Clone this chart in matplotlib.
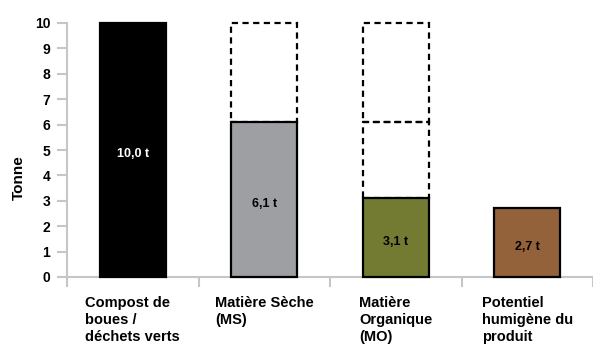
import matplotlib
matplotlib.use("Agg")
import matplotlib.pyplot as plt

plt.rcParams["font.family"] = ["Liberation Sans", "DejaVu Sans"]
plt.rcParams["font.weight"] = "bold"

# data
categories = [
    "Compost de\nboues /\ndéchets verts",
    "Matière Sèche\n(MS)",
    "Matière\nOrganique\n(MO)",
    "Potentiel\nhumigène du\nproduit",
]
values = [10.0, 6.1, 3.1, 2.7]
value_labels = ["10,0 t", "6,1 t", "3,1 t", "2,7 t"]
# dashed outlines showing the mass lost at each step
ghost_levels = [[], [10.0], [6.1, 10.0], []]
colors = ["#000000", "#9d9fa2", "#727b31", "#93613a"]
text_colors = ["white", "black", "black", "black"]
yticks = list(range(0, 11))

axis_gray = "#c4c6c8"

fig = plt.figure(figsize=(5.93, 3.45), dpi=100)
ax = fig.add_axes([67 / 593, 1 - 277 / 345, 526 / 593, 254 / 345])

x = range(len(categories))
bars = ax.bar(x, values, width=0.5, color=colors, edgecolor="black",
              linewidth=1.6, zorder=3)
for b in bars:
    b.set_clip_on(False)

for i, levels in enumerate(ghost_levels):
    bottom = values[i]
    for top in levels:
        g = ax.bar(i, top - bottom, bottom=bottom, width=0.5, fill=False,
                   edgecolor="black", linewidth=1.6, linestyle=(0, (2.8, 2.0)),
                   zorder=2)
        g[0].set_clip_on(False)
        bottom = top

for i, v in enumerate(values):
    ax.annotate(value_labels[i], (i, v / 2), xytext=(0, -3),
                textcoords="offset points", ha="center", va="center",
                fontsize=9, fontweight="bold", color=text_colors[i], zorder=4)

ax.set_xlim(-0.5, 3.5)
ax.set_ylim(0, 10)
ax.set_yticks(yticks)
ax.set_yticklabels([str(t) for t in yticks])
ax.set_xticks(list(x))
ax.set_xticklabels(categories)
ax.set_xticks([i - 0.5 for i in range(len(categories) + 1)], minor=True)
for lbl in ax.get_xticklabels():
    lbl.set_multialignment("left")
    lbl.set_linespacing(1.28)
    lbl.set_verticalalignment("top")

ax.tick_params(axis="x", which="major", length=0, pad=13.5, labelsize=10.5)
ax.tick_params(axis="x", which="minor", length=7, width=1.5,
               color=axis_gray, direction="out")
ax.tick_params(axis="y", length=7, width=1.5, color=axis_gray, pad=5,
               labelsize=10)

for s in ["top", "right"]:
    ax.spines[s].set_visible(False)
for s in ["left", "bottom"]:
    ax.spines[s].set_color(axis_gray)
    ax.spines[s].set_linewidth(1.5)

ax.set_ylabel("Tonne", fontsize=11, fontweight="bold")
ax.yaxis.set_label_coords(-0.078, 0.39)

fig.savefig("out.png", dpi=100)
